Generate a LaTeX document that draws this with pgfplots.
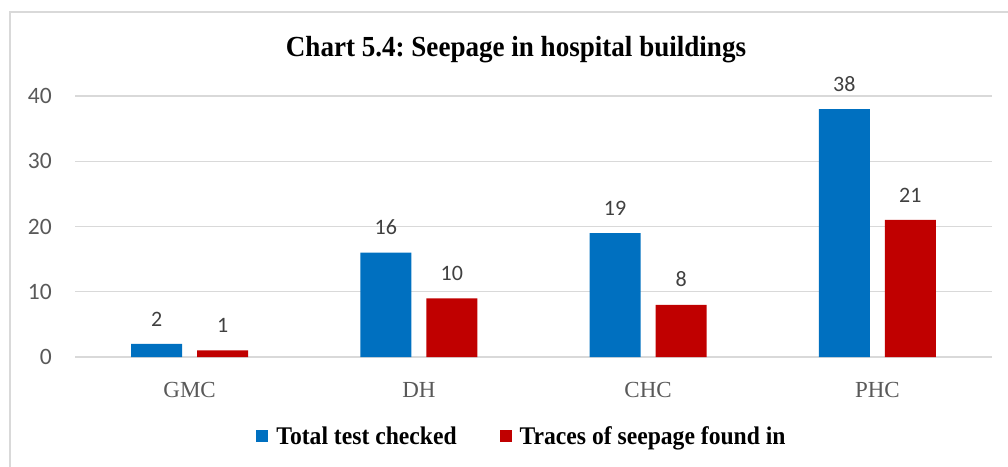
\documentclass[border=0pt]{standalone}
\usepackage{fontspec}
\setmainfont{Liberation Serif}
\newfontfamily\calib{Carlito}
\newfontfamily\tbold[FakeStretch=0.93]{Liberation Serif Bold}
\usepackage{pgfplots}
\pgfplotsset{compat=1.18}
\definecolor{barblue}{HTML}{0070C0}
\definecolor{barred}{HTML}{C00000}
\definecolor{gridgray}{HTML}{D9D9D9}
\definecolor{tickgray}{HTML}{595959}
\definecolor{labgray}{HTML}{404040}
\frenchspacing
\begin{document}
\begin{tikzpicture}[x=1pt,y=1pt]
\useasboundingbox (0,0) rectangle (1008,466);
\draw[gridgray, line width=1.3pt] (10,-40) rectangle (1060,454);
\node[anchor=base, inner sep=0pt, font=\tbold\fontsize{29.1}{32}\selectfont] at (516,409.3)
  {Chart 5.4: Seepage in hospital buildings};
\begin{axis}[
  at={(75pt,109pt)}, anchor=south west, scale only axis,
  width=917pt, height=261pt,
  xmin=-0.5, xmax=3.5, ymin=0, ymax=40,
  ybar=15pt, bar width=51pt,
  axis line style={draw=none},
  tick style={draw=none},
  ytick={0,10,20,30,40},
  ymajorgrids, grid style={gridgray, line width=1.2pt},
  xtick={0,1,2,3}, xticklabels={GMC,DH,CHC,PHC},
  xticklabel style={font=\fontsize{23}{26}\selectfont, text=tickgray, anchor=north, inner sep=0pt, yshift=-21pt},
  yticklabel style={font=\calib\fontsize{23.5}{26}\selectfont, text=tickgray, anchor=east, inner sep=0pt, xshift=-23pt},
  /pgf/number format/assume math mode=true,
  nodes near coords,
  point meta=explicit symbolic,
  nodes near coords style={font=\calib\fontsize{22}{25}\selectfont, text=labgray, anchor=south, inner sep=0pt, yshift=17.5pt},
  legend image code/.code={\fill[#1] (0pt,-6pt) rectangle (12pt,6pt);},
  legend style={at={(0.4864,-0.3027)}, anchor=center, draw=none, fill=none,
    legend columns=2, font=\tbold\fontsize{25.4}{29}\selectfont,
    /tikz/every even column/.append style={column sep=43pt},
    nodes={inner sep=0pt}, cells={anchor=west}},
]
\addplot[fill=barblue, draw=none] coordinates {(0,2) [2] (1,16) [16] (2,19) [19] (3,38) [38]};
\addlegendentry{\hspace{8pt}Total test checked}
\addplot[fill=barred, draw=none] coordinates {(0,1) [1] (1,9) [10] (2,8) [8] (3,21) [21]};
\addlegendentry{\hspace{8pt}Traces of seepage found in}
\end{axis}
\end{tikzpicture}
\end{document}
